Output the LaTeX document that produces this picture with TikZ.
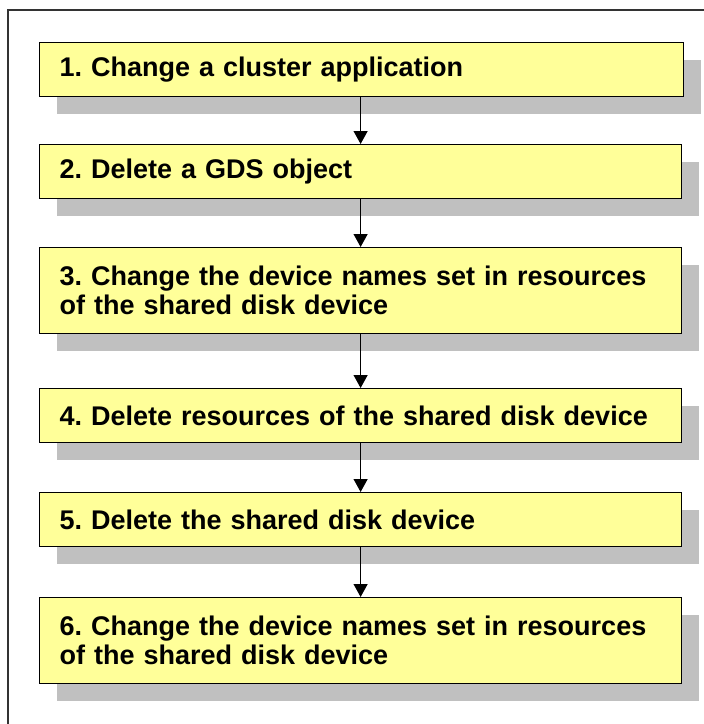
\documentclass[tikz,border=0pt]{standalone}
\usepackage{fontspec}
\setmainfont{Liberation Sans}
\definecolor{boxyellow}{RGB}{255,255,153}
\definecolor{shadowgray}{RGB}{192,192,192}
\definecolor{framegray}{RGB}{51,51,51}
\usetikzlibrary{arrows.meta,positioning,shadows}
\frenchspacing

\begin{document}
\begin{tikzpicture}[
  x=1pt, y=-1pt,
  stepbox/.style={
    rectangle, anchor=north west,
    draw=black, line width=1.2pt,
    fill=boxyellow,
    minimum height=54pt,
    text width=#1, inner xsep=20pt,
    align=left,
    font=\fontsize{27}{29}\selectfont\bfseries,
    drop shadow={shadow xshift=17pt, shadow yshift=-17pt,
      fill=shadowgray, opacity=1}
  },
  stepbox/.default=602pt,
  conn/.style={-{Triangle[length=13pt, width=14pt]}, line width=1.2pt, draw=black}
]
\useasboundingbox (0,0) rectangle (704,724);
\draw[framegray, line width=1.3pt] (8,724) -- (8,10) -- (704,10);

\node[stepbox=604pt]                    (b1) at (39,42)  {1. Change a cluster application};
\node[stepbox]                          (b2) at (39,144) {2. Delete a GDS object};
\node[stepbox, minimum height=86pt]     (b3) at (39,247) {3. Change the device names set in resources\\of the shared disk device};
\node[stepbox]                          (b4) at (39,388) {4. Delete resources of the shared disk device};
\node[stepbox]                          (b5) at (39,492) {5. Delete the shared disk device};
\node[stepbox, minimum height=86pt]     (b6) at (39,597) {6. Change the device names set in resources\\of the shared disk device};

\draw[conn] (b1.south -| b2.north) -- (b2.north);
\draw[conn] (b2.south) -- (b3.north);
\draw[conn] (b3.south) -- (b4.north);
\draw[conn] (b4.south) -- (b5.north);
\draw[conn] (b5.south) -- (b6.north);
\end{tikzpicture}
\end{document}
